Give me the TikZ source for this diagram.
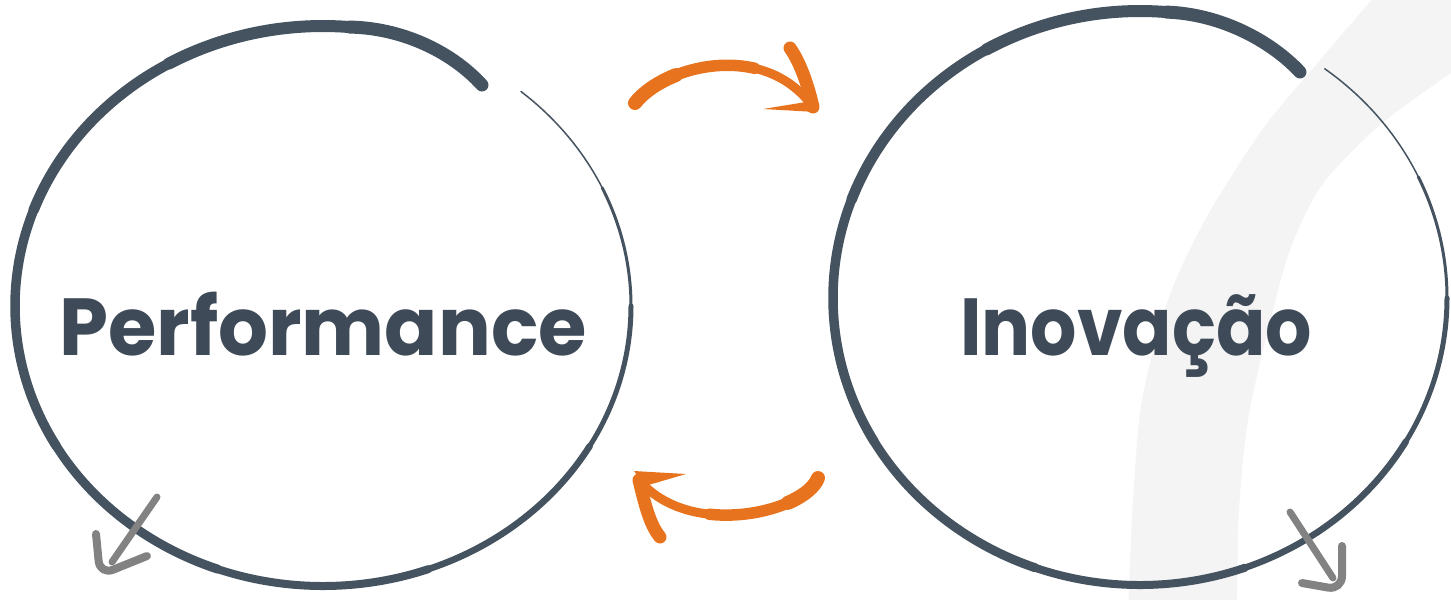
\documentclass[tikz,border=0pt]{standalone}
\usepackage{fontspec}
\setmainfont{Poppins}
\newfontfamily\handfont{Poppins}[FakeStretch=0.9]
\newfontfamily\handwide{Poppins}[FakeStretch=0.97]
\usepackage{tikz}
\usetikzlibrary{calc}
\usetikzlibrary{positioning}
\definecolor{slate}{RGB}{68,83,95}
\definecolor{slatetext}{RGB}{62,74,87}
\definecolor{brushorange}{RGB}{232,115,30}
\definecolor{pengray}{RGB}{130,130,130}
\definecolor{ringgray}{RGB}{244,244,244}
\tikzset{
  brush/.style={line width=#1*0.01cm, line cap=round, line join=round},
  circletext/.style={text=slatetext, font=\handfont\bfseries\fontsize{23pt}{28pt}\selectfont, inner sep=0pt, anchor=base}
}

\begin{document}
\begin{tikzpicture}[x=0.01cm,y=-0.01cm]
\useasboundingbox (0,0) rectangle (1451,599);
% faint swoosh in the back
\begin{scope}
\clip (0,0) rectangle (1451,599);
\fill[ringgray] plot[smooth] coordinates {(1128,610) (1133,500) (1142,400) (1168,300) (1205,220) (1262,130) (1320,60) (1380,-10)}
  -- (1460,-10) -- (1460,73)
  -- plot[smooth] coordinates {(1451,73) (1380,125) (1322,185) (1290,250) (1268,330) (1248,420) (1239,510) (1237,610)} -- cycle;
\end{scope}

\coordinate (pc) at (323,306);
\coordinate (ic) at (1140,298);

% hand drawn circle round Performance
\foreach \a/\b/\w in {-50/-25/1.5, -25/0/3, 0/30/5, 30/70/6.5, 70/110/8, 110/150/9, 150/200/9.5, 200/240/10.5, 240/275/12}
  \draw[slate, brush=\w] (pc) ++(\a:308 and 280) arc[start angle=\a, end angle=\b, x radius=308, y radius=280];
\draw[slate, brush=13] (pc) ++(275:308 and 280) .. controls (400,28) and (450,50) .. (482,85);

% hand drawn circle round Inovacao
\foreach \a/\b/\w in {-53/-25/1.5, -25/0/3, 0/30/5, 30/70/6.5, 70/110/8, 110/150/9, 150/200/9.5, 200/240/10.5, 240/275/12}
  \draw[slate, brush=\w] (ic) ++(\a:307 and 287) arc[start angle=\a, end angle=\b, x radius=307, y radius=287];
\draw[slate, brush=13] (ic) ++(275:307 and 287) .. controls (1220,14) and (1270,40) .. (1300,72);

\node[circletext, font=\handwide\bfseries\fontsize{23pt}{28pt}\selectfont] (perf) at (323,355) {Performance};
\node[circletext] (inov) at (1136,355) {Inovação};

% orange arrow on top
\coordinate (fwdstart) at (635,103);
\coordinate (fwdtip) at (813,107);
\draw[brushorange, brush=9] (fwdstart) .. controls (665,65) and (765,40) .. (fwdtip);
\draw[brushorange, brush=11.5, dash pattern=on 1.3cm off 10cm] (fwdstart) .. controls (665,65) and (765,40) .. (fwdtip);
\draw[brushorange, brush=14, dash pattern=on 0.5cm off 10cm] (fwdstart) .. controls (665,65) and (765,40) .. (fwdtip);
\draw[brushorange, brush=13] (790,48) .. controls (800,62) and (808,85) .. (fwdtip);
\fill[brushorange] (763,109) -- (812,101) -- (816,112) -- cycle;

% orange arrow at the bottom
\coordinate (backstart) at (818,478);
\coordinate (backtip) at (639,480);
\draw[brushorange, brush=9] (backstart) .. controls (805,512) and (690,540) .. (backtip);
\draw[brushorange, brush=11.5, dash pattern=on 1.2cm off 10cm] (backstart) .. controls (805,512) and (690,540) .. (backtip);
\draw[brushorange, brush=14, dash pattern=on 0.4cm off 10cm] (backstart) .. controls (805,512) and (690,540) .. (backtip);
\draw[brushorange, brush=13] (backtip) .. controls (645,505) and (650,525) .. (660,537);
\fill[brushorange] (634,471) -- (686,474) -- (645,486) -- cycle;

% grey pen arrows
\coordinate (outleft) at (157,497);
\coordinate (outright) at (1290,512);
\draw[pengray, brush=7] (outleft) -- (112,562);
\draw[pengray, brush=8, rounded corners=4] (96,534) -- (100,575) -- (147,556);
\draw[pengray, brush=7] (outright) -- (1333,578);
\draw[pengray, brush=8, rounded corners=4] (1342,546) -- (1342,590) -- (1302,583);
\end{tikzpicture}
\end{document}
